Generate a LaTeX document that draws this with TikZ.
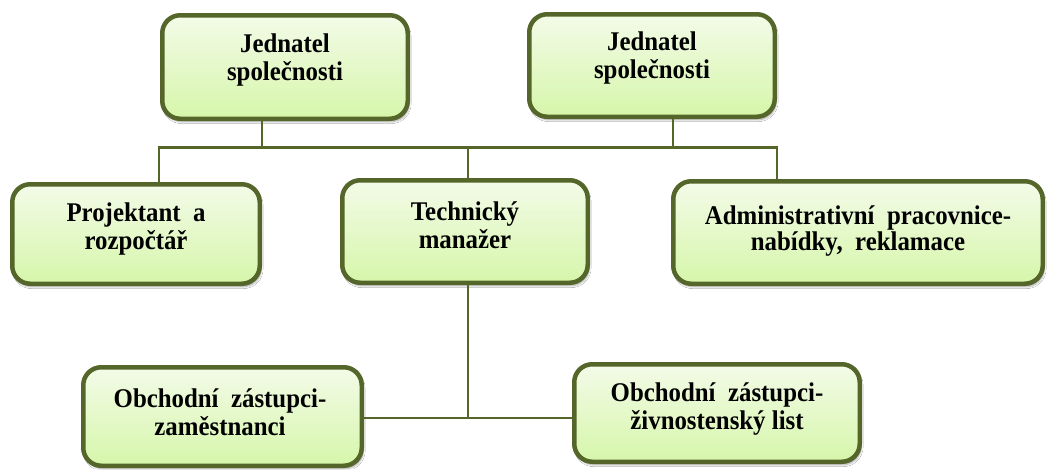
\documentclass[tikz,border=0pt]{standalone}
\usepackage{fontspec}
\setmainfont{Liberation Serif}
\newfontfamily\boxfont[FakeStretch=0.92]{Liberation Serif}
\usetikzlibrary{shadows.blur}
\definecolor{olivedk}{RGB}{85,102,42}
\definecolor{ltop}{RGB}{243,251,232}
\definecolor{lbot}{RGB}{214,246,170}
\begin{document}
\begin{tikzpicture}[x=1pt,y=-1pt,
  box/.style={draw=olivedk, line width=4.5pt, rounded corners=18pt,
    top color=ltop, bottom color=lbot,
    blur shadow={shadow xshift=1.5pt, shadow yshift=-3pt, shadow opacity=35, shadow blur steps=6},
    inner sep=0pt},
  lbl/.style={font=\boxfont\fontsize{27}{28}\selectfont\bfseries, align=center, inner sep=0pt},
  conn/.style={draw=olivedk, line width=2.5pt}]
\fill[white] (0,0) rectangle (1047,469);
\useasboundingbox (0,0) rectangle (1047,469);
% boxes
\node[box, minimum width=245.5pt, minimum height=103.5pt] (b1) at (285,67) {};
\node[box, minimum width=245.5pt, minimum height=102.5pt] (b2) at (652,65.5) {};
\node[box, minimum width=247.5pt, minimum height=99.5pt] (b3) at (136,234) {};
\node[box, minimum width=245.5pt, minimum height=102.5pt] (b4) at (465,231.5) {};
\node[box, minimum width=369.5pt, minimum height=102.5pt] (b5) at (858,232.5) {};
\node[box, minimum width=278.5pt, minimum height=98.5pt] (b6) at (222.5,416.5) {};
\node[box, minimum width=285.5pt, minimum height=97.5pt] (b7) at (717,413) {};
% texts
\node[lbl] (t1) at (285,60) {Jednatel\\společnosti};
\node[lbl] (t2) at (652,58) {Jednatel\\společnosti};
\node[lbl] (t3) at (136,229) {Projektant\ \ a\\rozpočtář};
\node[lbl] (t4) at (465,225) {Technický\\manažer};
\node[lbl, font=\boxfont\fontsize{27}{22}\selectfont\bfseries] (t5) at (858,231) {Administrativní\ \ pracovnice-\\nabídky,\ \ reklamace};
\node[lbl] (t6) at (220,412) {Obchodní\ \ zástupci-\\zaměstnanci};
\node[lbl] (t7) at (717,409) {Obchodní\ \ zástupci-\\živnostenský list};
% connectors
\coordinate (h1) at (159,147.5);
\coordinate (h2) at (777,147.5);
\coordinate (j1) at (262,147.5);
\coordinate (j2) at (673,147.5);
\coordinate (j3) at (468,147.5);
\coordinate (j4) at (468,418);
\draw[conn] (b3.north -| h1) -- (h1) -- (h2) -- (b5.north -| h2);
\draw[conn] (b1.south -| j1) -- (j1);
\draw[conn] (b2.south -| j2) -- (j2);
\draw[conn] (j3) -- (b4.north -| j3);
\draw[conn] (b4.south -| j4) -- (j4);
\draw[conn] (b6.east |- j4) -- (b7.west |- j4);
\end{tikzpicture}
\end{document}
